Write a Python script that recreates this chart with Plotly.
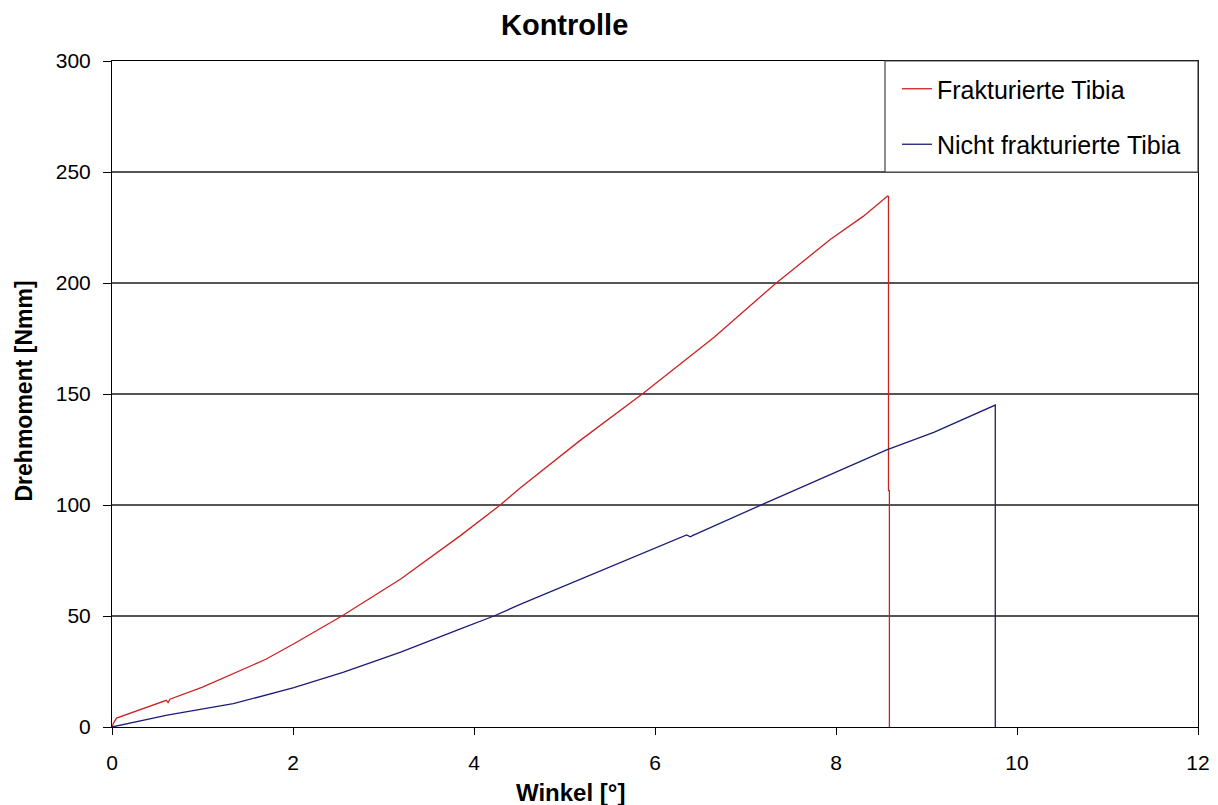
import plotly.graph_objects as go

# Data
red_name = "Frakturierte Tibia"
red_x = [0, 0.02, 0.05, 0.3, 0.6, 0.62, 0.64, 1.0, 1.34, 1.7, 2.01, 2.54, 3.19, 3.85,
         4.29, 4.51, 5.17, 5.87, 6.65, 7.33, 7.94, 8.3, 8.57, 8.58, 8.58, 8.59, 8.59]
red_y = [0, 2, 4, 7.5, 12, 11, 12.5, 18, 24, 30.5, 37.5, 50, 66.7, 86.2,
         100, 107.7, 129, 150.3, 175.4, 199.7, 219.7, 230, 239.2, 239, 106.5, 106.5, 0]

blue_name = "Nicht frakturierte Tibia"
blue_x = [0, 0.61, 1.34, 2.01, 2.56, 3.19, 3.85, 4.22, 4.51, 5.45, 6.35, 6.39, 6.42,
          7.2, 7.75, 8.56, 9.08, 9.75, 9.76, 9.76]
blue_y = [0, 5.3, 10.5, 17.7, 24.7, 33.7, 44.2, 50, 55.2, 71.2, 86.5, 85.7, 86.3,
          100.5, 110.2, 124.8, 132.7, 145.1, 145, 0]

x_ticks = [0, 2, 4, 6, 8, 10, 12]
y_ticks = [0, 50, 100, 150, 200, 250, 300]

title_text = "Kontrolle"
x_title = "Winkel [°]"
y_title = "Drehmoment [Nmm]"

FONT = "Liberation Sans, Arial, sans-serif"

fig = go.Figure()
fig.add_trace(go.Scatter(x=red_x, y=red_y, mode="lines", name=red_name,
                         legendgroup="a",
                         line=dict(color="#CC2222", width=1.3)))
fig.add_trace(go.Scatter(x=blue_x, y=blue_y, mode="lines", name=blue_name,
                         legendgroup="b",
                         line=dict(color="#1C1C78", width=1.3)))

W, H = 1218, 805
ml, mr, mt, mb = 112, 20, 61, 78
PW, PH = W - ml - mr, H - mt - mb


def px_x(p):
    return (p - ml) / PW


def px_y(p):
    return 1 - (p - mt) / PH


fig.update_layout(
    width=W, height=H,
    margin=dict(l=ml, r=mr, t=mt, b=mb, autoexpand=False),
    paper_bgcolor="white", plot_bgcolor="white",
    font=dict(family=FONT, color="black", size=21),
    showlegend=True,
    legend=dict(x=px_x(897), y=px_y(66), xanchor="left", yanchor="top",
                bgcolor="rgba(0,0,0,0)", borderwidth=0,
                font=dict(size=25, family=FONT, color="black"),
                traceorder="grouped", tracegroupgap=20,
                itemwidth=30),
    xaxis=dict(range=[0, 12], tickvals=x_ticks, ticks="outside", ticklen=7,
               tickcolor="black", showline=True, linecolor="black", linewidth=1,
               mirror=True, showgrid=False, zeroline=False,
               ticklabelstandoff=10,
               tickfont=dict(size=21, family=FONT)),
    yaxis=dict(range=[0, 300], tickvals=y_ticks, ticks="outside", ticklen=8,
               tickcolor="black", showline=True, linecolor="black", linewidth=1,
               mirror=True, showgrid=True, gridcolor="#555555", gridwidth=1.5,
               zeroline=False, ticklabelstandoff=8,
               tickfont=dict(size=21, family=FONT)),
)

# Legend frame, as in the original (spans to the plot's right edge)
fig.add_shape(type="rect", xref="paper", yref="paper",
              x0=px_x(885), x1=1, y0=px_y(172), y1=1,
              line=dict(color="#444444", width=1.2), fillcolor="white",
              layer="above")

# Titles placed like the original (centred on the chart area)
fig.add_annotation(text="<b>" + title_text + "</b>", xref="paper", yref="paper",
                   x=px_x(564), y=1, yshift=36,
                   showarrow=False, font=dict(size=29, family=FONT),
                   xanchor="center", yanchor="middle")
fig.add_annotation(text="<b>" + x_title + "</b>", xref="paper", yref="paper",
                   x=px_x(570), y=0, yshift=-65,
                   showarrow=False, font=dict(size=24, family=FONT),
                   xanchor="center", yanchor="middle")
fig.add_annotation(text="<b>" + y_title + "</b>", xref="paper", yref="paper",
                   x=0, xshift=-89, y=px_y(391.5), textangle=-90,
                   showarrow=False, font=dict(size=23, family=FONT),
                   xanchor="center", yanchor="middle")

fig.write_html("out.html",
               config={"displayModeBar": False},
               post_script="document.body.style.margin='0';document.body.style.overflow='hidden';")
